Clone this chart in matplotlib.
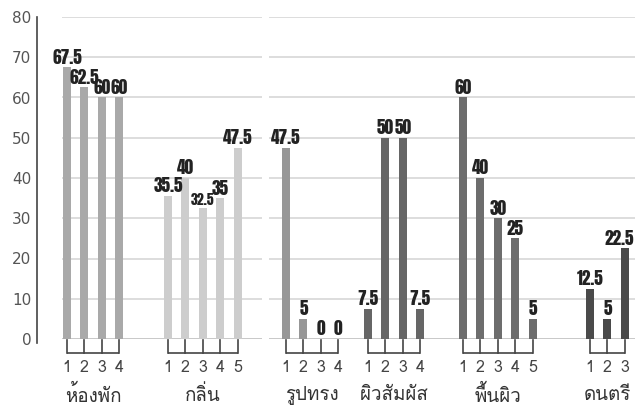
import matplotlib
matplotlib.use('Agg')
import matplotlib.pyplot as plt

# Thai group names and the score of each item in the group
groups = ['ห้องพัก', 'กลิ่น', 'รูปทรง', 'ผิวสัมผัส', 'พื้นผิว', 'ดนตรี']
room = [67.5, 62.5, 60, 60]
smell = [35.5, 40, 32.5, 35, 47.5]
shape = [47.5, 5, 0, 0]
touch = [7.5, 50, 50, 7.5]
surface = [60, 40, 30, 25, 5]
music = [12.5, 5, 22.5]
series = [room, smell, shape, touch, surface, music]

# Layout (x in figure pixels)
starts = [67, 168, 286, 368, 463, 590]
step = 17.4
bar_w = 8
right_edge = 635
colors = ['#a9a9a9', '#cdcdcd', '#979797', '#666666', '#6d6d6d', '#4a4a4a']

THAI = ['Loma', 'Noto Sans Thai Looped', 'DejaVu Sans']
NUM = ['Anton', 'Oswald', 'DejaVu Sans']

fig = plt.figure(figsize=(6.35, 4.05), dpi=100)
ax = fig.add_axes([37 / 635, 66 / 405, 598 / 635, 322 / 405])
ax.set_xlim(37, right_edge)
ax.set_ylim(0, 80)

# Grid lines, broken where the two source panels meet
yticks = list(range(0, 81, 10))
for y in yticks:
    c = '#c4c4c4' if y == 0 else '#dadada'
    ax.hlines(y, 62, 262, color=c, lw=1.3, zorder=0)
    ax.hlines(y, 269, right_edge, color=c, lw=1.3, zorder=0)

for g, (name, vals) in enumerate(zip(groups, series)):
    xs = [starts[g] + i * step for i in range(len(vals))]
    ax.bar(xs, vals, width=bar_w, color=colors[g], zorder=2)
    for x, v in zip(xs, vals):
        small = v == 32.5
        # keep the right-most label inside the picture
        near_edge = x + 12 > right_edge
        ax.text(right_edge - 1 if near_edge else x, v + 0.9, f'{v:g}',
                ha='right' if near_edge else 'center', va='baseline',
                family=NUM, fontsize=10 if small else 12.5,
                color='#222222', zorder=3)
    # bracket under the group
    ax.plot([xs[0], xs[-1]], [-3.5, -3.5], color='#444444', lw=1.2,
            clip_on=False, solid_capstyle='butt')
    for i, x in enumerate(xs):
        ax.plot([x, x], [-0.2, -3.5], color='#444444', lw=1.2, clip_on=False)
        ax.text(x, -7.2, str(i + 1), ha='center', va='center', family=THAI,
                fontsize=11.5, color='#444444', clip_on=False)
    ax.text((xs[0] + xs[-1]) / 2, -13.9, name, ha='center', va='center',
            family=THAI, fontsize=13.5, color='#333333', clip_on=False)

for s in ['top', 'right', 'bottom']:
    ax.spines[s].set_visible(False)
ax.spines['left'].set_color('#444444')
ax.spines['left'].set_linewidth(1.2)
ax.spines['left'].set_bounds(-1, 80)
ax.spines['left'].set_position(('data', 37))
ax.set_xticks([])
ax.set_yticks(yticks)
ax.tick_params(axis='y', length=0, pad=4, labelsize=11, labelcolor='#555555')
for lab in ax.get_yticklabels():
    lab.set_family(['DejaVu Sans'])

fig.savefig('out.png', dpi=100)
